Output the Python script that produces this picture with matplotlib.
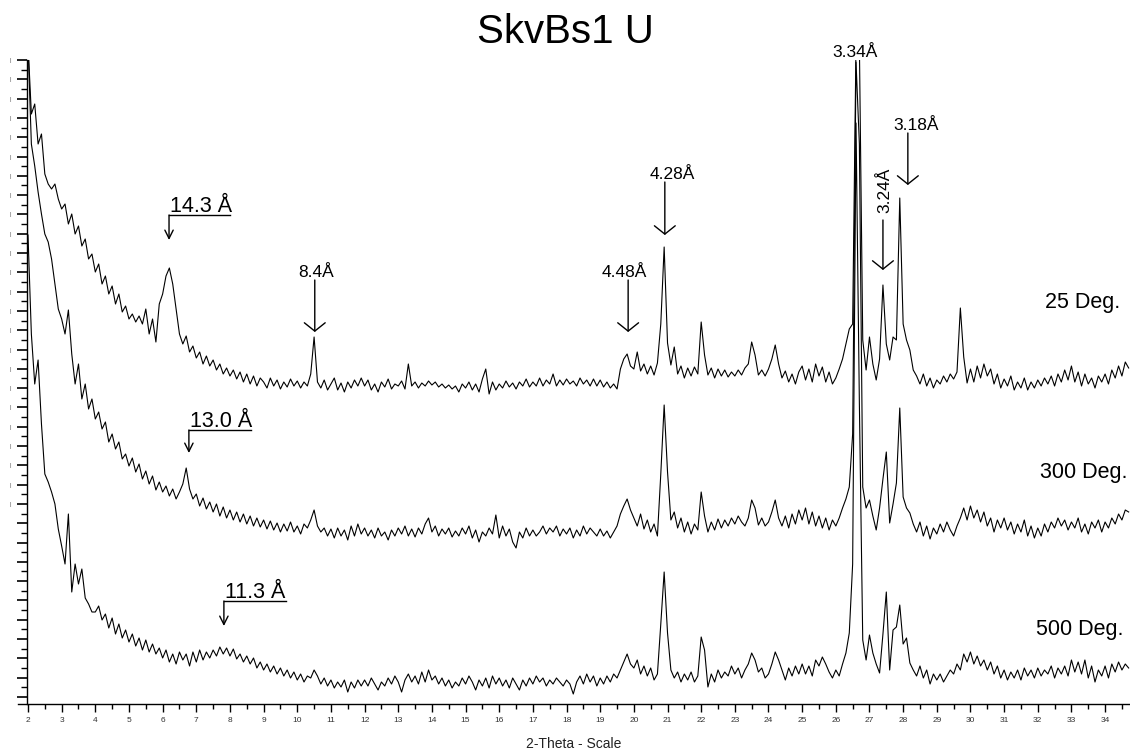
import numpy as np
import matplotlib
matplotlib.use('Agg')
import matplotlib.pyplot as plt
from matplotlib.ticker import FixedLocator, FixedFormatter

plt.rcParams['font.family'] = ['Liberation Sans', 'DejaVu Sans']

# 2-theta steps (deg), read every 0.1 deg
two_theta = np.round(np.arange(2.0, 34.75, 0.1), 1)

# intensities (arbitrary units), one row per degree
deg25 = [
    660, 590, 600, 560, 570, 530, 520, 515, 520, 505,
    495, 500, 480, 490, 470, 478, 458, 465, 445, 450,
    432, 440, 420, 428, 410, 418, 400, 410, 392, 398,
    385, 390, 382, 388, 380, 395, 370, 385, 362, 400,
    410, 428, 436, 420, 395, 370, 360, 368, 352, 358,
    346, 352, 340, 348, 338, 344, 334, 340, 330, 336,
    328, 334, 325, 332, 322, 330, 320, 328, 318, 326,
    322, 316, 326, 318, 324, 315, 322, 317, 325, 318,
    323, 316, 322, 318, 330, 367, 322, 316, 324, 314,
    320, 326, 314, 321, 312, 322, 316, 324, 318, 326,
    318, 324, 314, 320, 312, 322, 317, 325, 315, 320,
    318, 323, 315, 340, 318, 322, 316, 321, 318, 323,
    319, 322, 317, 320, 316, 319, 315, 318, 312, 320,
    316, 322, 314, 320, 312, 325, 335, 310, 322, 314,
    320, 316, 323, 317, 321, 315, 322, 318, 325, 317,
    322, 318, 326, 318, 324, 320, 330, 318, 324, 319,
    325, 320, 323, 318, 326, 320, 324, 318, 325, 318,
    324, 317, 322, 316, 320, 315, 335, 345, 350, 338,
    335, 352, 333, 340, 330, 338, 329, 341, 380, 457,
    361, 339, 357, 330, 338, 326, 336, 328, 337, 330,
    382, 349, 329, 336, 326, 335, 328, 334, 327, 332,
    328, 334, 329, 336, 340, 362, 349, 329, 334, 328,
    335, 345, 359, 340, 326, 333, 322, 330, 320, 332,
    338, 324, 335, 322, 340, 328, 337, 322, 332, 320,
    326, 335, 345, 360, 375, 380, 660, 660, 364, 334,
    367, 340, 324, 345, 419, 360, 344, 367, 364, 506,
    380, 364, 354, 334, 328, 320, 330, 318, 326, 316,
    324, 320, 328, 322, 330, 325, 332, 396, 347, 321,
    335, 322, 338, 326, 340, 328, 335, 320, 330, 316,
    325, 318, 328, 314, 322, 316, 326, 314, 322, 316,
    324, 318, 326, 320, 328, 318, 330, 322, 334, 324,
    338, 322, 332, 318, 330, 320, 326, 316, 328, 322,
    330, 320, 334, 326, 338, 328, 342, 336,
]

deg300 = [
    660, 560, 538, 512, 490, 470, 462, 445, 420, 395,
    385, 370, 394, 350, 320, 340, 305, 320, 295, 305,
    285, 292, 275, 282, 262, 270, 255, 262, 245, 250,
    238, 246, 232, 240, 225, 233, 220, 228, 214, 222,
    212, 218, 208, 215, 205, 212, 220, 236, 215, 205,
    210, 198, 206, 195, 202, 192, 200, 188, 197, 186,
    194, 184, 192, 182, 190, 180, 188, 178, 186, 177,
    184, 175, 183, 174, 181, 172, 180, 173, 182, 172,
    178, 170, 180, 176, 184, 194, 178, 172, 176, 168,
    175, 166, 176, 168, 174, 164, 178, 168, 180, 170,
    176, 168, 174, 166, 176, 168, 172, 164, 174, 168,
    176, 170, 178, 168, 175, 167, 176, 170, 180, 186,
    172, 178, 168, 175, 170, 176, 167, 173, 168, 176,
    170, 178, 166, 174, 162, 172, 168, 176, 170, 189,
    166, 178, 168, 175, 162, 156, 172, 166, 176, 168,
    174, 168, 172, 178, 170, 176, 172, 178, 168, 175,
    170, 176, 166, 174, 168, 178, 170, 176, 172, 168,
    175, 168, 173, 166, 172, 178, 190, 198, 205, 194,
    186, 178, 190, 175, 184, 172, 180, 168, 230, 299,
    232, 184, 192, 176, 186, 172, 182, 170, 180, 174,
    212, 188, 172, 182, 174, 185, 176, 184, 178, 186,
    180, 188, 182, 178, 186, 204, 196, 179, 186, 178,
    182, 192, 204, 186, 178, 188, 176, 190, 180, 194,
    184, 196, 180, 192, 178, 188, 176, 186, 174, 184,
    178, 186, 196, 205, 217, 270, 642, 560, 217, 196,
    204, 188, 174, 196, 225, 252, 181, 200, 221, 296,
    207, 196, 191, 180, 172, 182, 168, 178, 165, 176,
    170, 180, 172, 182, 174, 168, 178, 186, 196, 184,
    198, 186, 194, 182, 192, 178, 186, 172, 184, 176,
    186, 174, 182, 170, 180, 172, 184, 168, 178, 166,
    176, 168, 180, 172, 182, 176, 186, 178, 184, 174,
    182, 176, 186, 172, 180, 170, 182, 176, 184, 172,
    182, 176, 186, 180, 190, 184, 194, 192,
]

deg500 = [
    469, 370, 320, 344, 280, 230, 222, 212, 200, 175,
    158, 140, 190, 112, 140, 120, 135, 106, 100, 92,
    92, 98, 84, 90, 76, 86, 70, 80, 66, 74,
    62, 70, 58, 66, 54, 64, 52, 60, 50, 56,
    46, 54, 42, 50, 40, 52, 44, 50, 38, 52,
    42, 54, 44, 52, 46, 54, 48, 57, 50, 56,
    48, 55, 45, 50, 42, 48, 40, 46, 36, 42,
    34, 40, 32, 38, 30, 36, 28, 34, 26, 32,
    24, 30, 22, 28, 26, 34, 28, 20, 26, 18,
    24, 16, 22, 17, 24, 12, 22, 16, 24, 18,
    24, 18, 26, 20, 14, 22, 18, 26, 20, 28,
    22, 12, 24, 30, 22, 28, 20, 32, 22, 34,
    24, 28, 20, 26, 18, 24, 16, 22, 18, 26,
    20, 28, 22, 14, 24, 18, 26, 16, 28, 20,
    26, 18, 24, 16, 26, 20, 14, 24, 18, 26,
    20, 28, 22, 26, 18, 24, 20, 26, 22, 18,
    24, 20, 10, 22, 28, 20, 30, 22, 28, 18,
    26, 20, 28, 22, 30, 26, 34, 42, 50, 40,
    36, 44, 30, 38, 28, 36, 24, 30, 80, 132,
    71, 34, 26, 32, 22, 30, 24, 32, 22, 28,
    67, 54, 17, 30, 22, 34, 26, 32, 28, 38,
    30, 36, 26, 34, 40, 51, 44, 32, 36, 26,
    30, 40, 52, 44, 34, 24, 36, 28, 38, 30,
    40, 30, 38, 28, 44, 38, 47, 40, 32, 26,
    34, 28, 40, 51, 71, 140, 581, 300, 64, 44,
    69, 51, 40, 31, 70, 112, 34, 74, 77, 99,
    60, 66, 41, 34, 28, 38, 26, 34, 20, 30,
    24, 30, 22, 28, 34, 30, 40, 34, 50, 42,
    52, 40, 48, 38, 44, 34, 42, 30, 38, 26,
    34, 24, 32, 26, 34, 24, 36, 28, 34, 26,
    36, 28, 34, 30, 38, 26, 36, 30, 38, 28,
    44, 32, 42, 30, 44, 26, 38, 22, 34, 28,
    38, 26, 40, 32, 42, 34, 40, 36,
]

trace_names = ['25 Deg.', '300 Deg.', '500 Deg.']
trace_label_x = [34.44, 34.68, 34.56]
trace_label_y = [396, 226, 69]

# d-spacing labels: text, arrow x, arrow top, arrow tip, text x, text y
d_labels = [
    ('8.4Å', 10.52, 424, 372, 10.02, 427),
    ('4.48Å', 19.83, 424, 372, 19.05, 427),
    ('4.28Å', 20.92, 522, 469, 20.48, 525),
    ('3.18Å', 28.14, 571, 519, 27.70, 574),
]
# clay basal spacings with a bracket: text, arrow x, bracket y, tip, bracket end
basal_labels = [
    ('14.3 Å', 6.19, 489, 464, 8.00),
    ('13.0 Å', 6.78, 274, 251, 8.62),
    ('11.3 Å', 7.82, 103, 78, 9.66),
]

fig = plt.figure(figsize=(11.3, 7.53), dpi=100)
ax = fig.add_axes([18 / 1130, 49 / 753, 1112 / 1130, 644 / 753])

for series in [deg25, deg300, deg500]:
    ax.plot(two_theta, series, color='black', lw=0.8)

ax.set_xlim(1.703, 34.74)
ax.set_ylim(0, 644)

ax.spines['top'].set_visible(False)
ax.spines['right'].set_visible(False)
ax.spines['left'].set_position(('data', 1.97))
ax.spines['left'].set_linewidth(1.0)
ax.spines['bottom'].set_linewidth(1.0)

ax.xaxis.set_major_locator(FixedLocator(np.arange(2, 35)))
ax.xaxis.set_minor_locator(FixedLocator(np.arange(2.5, 35, 1.0)))
ax.tick_params(axis='x', which='major', direction='out', length=5.5, width=1,
               labelsize=6, labelcolor='#333333', pad=4)
ax.tick_params(axis='x', which='minor', direction='out', length=3.5, width=1)

y_major = 644 - 19.3 * np.arange(34)
y_minor = y_major - 9.65
ax.yaxis.set_major_locator(FixedLocator(y_major))
ax.yaxis.set_minor_locator(FixedLocator(y_minor[y_minor > 0]))
ax.yaxis.set_major_formatter(FixedFormatter(['|' if v >= 189 else '' for v in y_major]))
ax.tick_params(axis='y', which='major', direction='out', length=7.2, width=1.2,
               labelsize=4, labelcolor='#555555', pad=4)
ax.tick_params(axis='y', which='minor', direction='out', length=4.3, width=1)

ax.set_xlabel('2-Theta - Scale', fontsize=10, labelpad=9, color='#222222')

for name, x, y in zip(trace_names, trace_label_x, trace_label_y):
    ax.text(x, y, name, ha='right', va='baseline', fontsize=15.5)

wide_head = dict(arrowstyle='->,head_length=0.6,head_width=0.75', lw=1,
                 color='black', shrinkA=0, shrinkB=0, mutation_scale=10)
thin_head = dict(arrowstyle='->,head_length=0.6,head_width=0.3', lw=1,
                 color='black', shrinkA=0, shrinkB=0, mutation_scale=10)

for text, ax_x, top, tip, tx, ty in d_labels:
    ax.annotate('', xy=(ax_x, tip), xytext=(ax_x, top), arrowprops=wide_head)
    ax.text(tx, ty, text, ha='left', va='baseline', fontsize=12.5)

# 3.24 A: rotated label above its arrow
ax.annotate('', xy=(27.40, 434), xytext=(27.40, 484), arrowprops=wide_head)
ax.text(27.46, 514, '3.24Å', rotation=90, ha='center', va='center', fontsize=12.5)

# 3.34 A: label only, over the clipped quartz peak
ax.text(25.89, 647, '3.34Å', ha='left', va='baseline', fontsize=12.5, clip_on=False)

for text, ax_x, y, tip, x_end in basal_labels:
    ax.plot([ax_x, x_end], [y, y], color='black', lw=1)
    ax.annotate('', xy=(ax_x, tip), xytext=(ax_x, y), arrowprops=thin_head)
    ax.text(ax_x + 0.03, y + 3, text, ha='left', va='baseline', fontsize=15.5)

fig.text(565 / 1130, 1 - 43 / 753, 'SkvBs1 U', ha='center', va='baseline', fontsize=29)

fig.savefig('out.png', dpi=100)
